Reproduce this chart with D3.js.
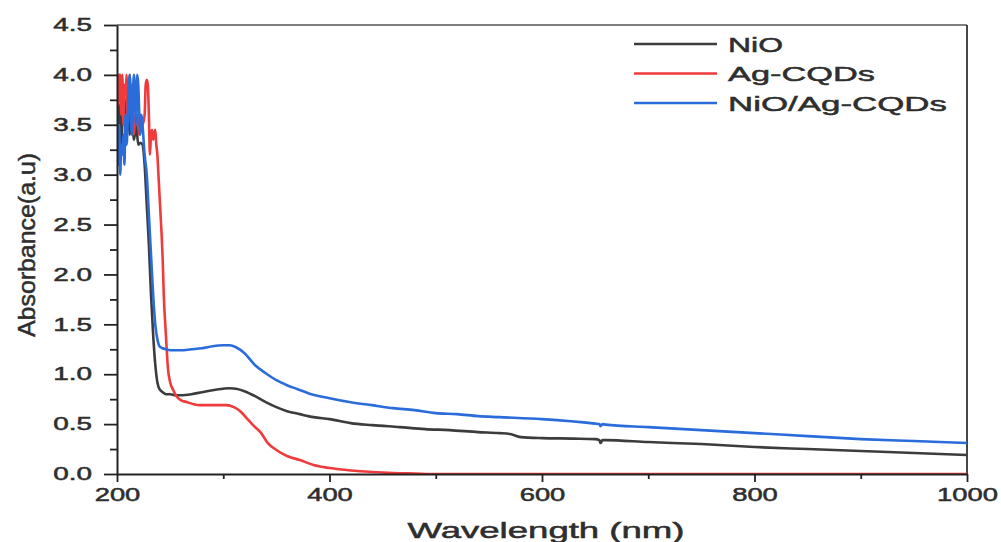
<!DOCTYPE html>
<html><head><meta charset="utf-8">
<script src="https://cdn.jsdelivr.net/npm/d3@7"></script>
<style>
html,body{margin:0;padding:0;background:#fff;}
svg{display:block;}
text{font-family:"Liberation Sans",Arial,sans-serif;fill:#2e2e2e;stroke:#2e2e2e;stroke-width:0.5px;}
</style></head>
<body><svg id="c" width="1001" height="542"></svg>
<script>
// ---- data ----
const seriesNames = ["NiO", "Ag-CQDs", "NiO/Ag-CQDs"];
const xTicks = [200, 400, 600, 800, 1000];
const yTicks = [0.0, 0.5, 1.0, 1.5, 2.0, 2.5, 3.0, 3.5, 4.0, 4.5];

const nioWl  = [200,202,204,206,208,210,212,214,216,218,220,222,224,226,228,230,232,234,236,238,240,243,246,250,255,260,270,280,290,300,306,312,320,330,340,350,360,372,385,400,420,440,466,490,513,540,560,570,580,600,630,650,654,655,657,660,700,750,800,850,900,950,1000];
const nioAbs = [3.4,3.7,3.3,3.8,3.5,3.9,3.4,3.6,3.35,3.5,3.3,3.32,3.3,3.1,2.7,2.3,1.8,1.4,1.1,0.92,0.85,0.82,0.80,0.80,0.79,0.79,0.80,0.82,0.84,0.855,0.86,0.855,0.83,0.78,0.72,0.67,0.63,0.60,0.57,0.55,0.51,0.49,0.47,0.45,0.44,0.42,0.41,0.40,0.37,0.36,0.355,0.35,0.34,0.31,0.34,0.34,0.32,0.30,0.27,0.25,0.23,0.21,0.19];

const agWl  = [200,201,202,203,204,205,206,207,208,209,210,211,212,213,214,215,216,217,218,219,220,221,222,224,226,227,228,229,230,231,232,233,234,235,236,237,238,239,240,241,242,243,244,246,248,250,253,256,260,266,272,278,284,290,296,303,310,316,322,328,335,342,350,360,372,385,400,420,440,460,480,500,550,600,700,800,900,1000];
const agAbs = [4.0,3.7,4.0,4.0,3.6,4.0,3.5,3.9,3.8,4.0,3.5,3.7,4.0,3.6,3.9,3.5,3.4,3.6,3.5,3.6,3.5,3.4,3.6,3.5,3.6,3.9,3.95,3.9,3.6,3.2,3.4,3.45,3.35,3.4,3.45,3.3,3.2,3.0,2.8,2.6,2.4,2.15,1.8,1.4,1.05,0.92,0.84,0.78,0.74,0.72,0.70,0.69,0.69,0.69,0.69,0.69,0.67,0.63,0.56,0.49,0.42,0.31,0.24,0.18,0.14,0.09,0.06,0.035,0.02,0.01,0.005,0.0,0.0,0.0,0.0,0.0,0.0,0.0];

const mixWl  = [200,201,202,203,204,205,206,207,208,209,210,211,212,213,214,215,216,217,218,219,220,221,222,223,224,226,228,230,232,234,236,238,240,243,246,250,260,270,280,290,300,306,312,320,330,340,350,360,370,380,400,420,440,460,480,500,520,540,560,600,650,654,655,657,660,700,750,800,850,900,950,1000];
const mixAbs = [3.6,3.1,3.5,3.0,3.3,3.2,3.4,3.1,3.6,3.3,3.5,3.9,4.0,3.6,3.4,3.8,4.0,3.7,3.5,4.0,3.9,3.6,3.4,3.6,3.5,3.2,3.0,2.6,2.2,1.8,1.5,1.35,1.28,1.26,1.25,1.24,1.24,1.25,1.26,1.28,1.29,1.29,1.27,1.21,1.09,1.01,0.94,0.89,0.85,0.81,0.76,0.72,0.69,0.66,0.64,0.61,0.60,0.58,0.57,0.55,0.505,0.50,0.48,0.50,0.495,0.47,0.44,0.41,0.38,0.35,0.33,0.31];

const colors = ["#3c3c3c", "#ef3b3b", "#2a6cd9"];

// ---- layout ----
const svg = d3.select("#c");
const L = 117, R = 967, T = 25, B = 474;
const x = d3.scaleLinear().domain([200, 1000]).range([L, R]);
const y = d3.scaleLinear().domain([0, 4.5]).range([B, T]);

function stretch(sel, f) {
  sel.each(function () {
    const w = this.getComputedTextLength();
    d3.select(this).attr("textLength", w * f).attr("lengthAdjust", "spacingAndGlyphs");
  });
}

svg.append("defs").append("clipPath").attr("id", "clip")
  .append("rect").attr("x", L).attr("y", T - 2).attr("width", R - L).attr("height", B - T + 2);

// frame top & right
svg.append("line").attr("x1", L).attr("x2", R).attr("y1", T).attr("y2", T).attr("stroke", "#555").attr("stroke-width", 1.6);
svg.append("line").attr("x1", R).attr("x2", R).attr("y1", T).attr("y2", B).attr("stroke", "#333").attr("stroke-width", 1.8);

// lines
const line = d3.line().x(d => x(d[0])).y(d => y(d[1])).curve(d3.curveMonotoneX);
const data = [
  d3.zip(nioWl, nioAbs),
  d3.zip(agWl, agAbs),
  d3.zip(mixWl, mixAbs)
];
const g = svg.append("g").attr("clip-path", "url(#clip)");
data.forEach((d, i) => {
  g.append("path").datum(d).attr("d", line).attr("fill", "none")
    .attr("stroke", colors[i]).attr("stroke-width", 2.6).attr("stroke-linejoin", "round");
});

// x axis
const xMinor = d3.range(300, 1000, 200);
svg.append("g").attr("transform", `translate(0,${B})`)
  .call(d3.axisBottom(x).tickValues(xMinor).tickSize(5).tickFormat(""))
  .call(s => { s.select(".domain").remove(); s.selectAll("line").attr("stroke", "#222").attr("stroke-width", 1.8); });
const xa = svg.append("g").attr("transform", `translate(0,${B})`)
  .call(d3.axisBottom(x).tickValues(xTicks).tickSize(8).tickSizeOuter(0).tickPadding(6).tickFormat(d3.format("d")));
xa.select(".domain").attr("stroke", "#222").attr("stroke-width", 2);
xa.selectAll("line").attr("stroke", "#222").attr("stroke-width", 1.8);
xa.selectAll("text").style("font-size", "18px").attr("fill", "#2e2e2e").attr("dy", "0.72em").call(stretch, 1.52);

// y axis
const yMinor = d3.range(0.25, 4.5, 0.5);
svg.append("g").attr("transform", `translate(${L},0)`)
  .call(d3.axisLeft(y).tickValues(yMinor).tickSize(7).tickFormat(""))
  .call(s => { s.select(".domain").remove(); s.selectAll("line").attr("stroke", "#222").attr("stroke-width", 1.8); });
const ya = svg.append("g").attr("transform", `translate(${L},0)`)
  .call(d3.axisLeft(y).tickValues(yTicks).tickSize(13).tickSizeOuter(0).tickPadding(12).tickFormat(d3.format(".1f")));
ya.select(".domain").attr("stroke", "#222").attr("stroke-width", 2);
ya.selectAll("line").attr("stroke", "#222").attr("stroke-width", 1.8);
ya.selectAll("text").style("font-size", "18px").attr("fill", "#2e2e2e").call(stretch, 1.55);

// axis titles
svg.append("text").attr("x", 546).attr("y", 538).attr("text-anchor", "middle")
  .style("font-size", "22px").attr("textLength", 277).attr("lengthAdjust", "spacingAndGlyphs")
  .text("Wavelength (nm)");
svg.append("text").attr("transform", "translate(35,245) rotate(-90)").attr("text-anchor", "middle")
  .style("font-size", "24px").attr("textLength", 184).attr("lengthAdjust", "spacingAndGlyphs")
  .text("Absorbance(a.u)");

// legend
const legW = [55, 147, 219];
seriesNames.forEach((n, i) => {
  const yy = 44 + i * 29.5;
  svg.append("line").attr("x1", 634).attr("x2", 717).attr("y1", yy).attr("y2", yy)
    .attr("stroke", colors[i]).attr("stroke-width", 2.6);
  svg.append("text").attr("x", 728).attr("y", yy + 7.5).style("font-size", "21px")
    .attr("textLength", legW[i]).attr("lengthAdjust", "spacingAndGlyphs").text(n);
});
</script></body></html>
